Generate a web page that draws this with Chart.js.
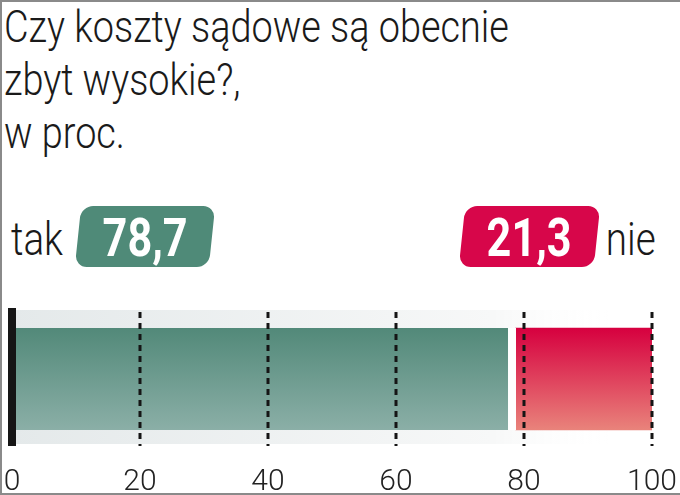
<!DOCTYPE html>
<html>
<head>
<meta charset="utf-8">
<script src="https://cdn.jsdelivr.net/npm/chart.js@4.4.1/dist/chart.umd.min.js"></script>
<style>
  html, body { margin: 0; padding: 0; background: #fff; }
  #wrap {
    position: relative; width: 680px; height: 495px; overflow: hidden;
    font-family: Roboto, sans-serif; color: #1a1a1a;
  }
  #frame {
    position: absolute; left: 0; top: 0; width: 700px; height: 495px; box-sizing: border-box;
    border: 2px solid #8a8a8a; pointer-events: none;
  }
  #title {
    position: absolute; left: 4px; top: 1px; margin: 0;
    font-weight: 300; font-size: 44px; line-height: 53px;
    transform: scaleX(0.86); transform-origin: 0 0; white-space: nowrap;
  }
  .ans { position: absolute; top: 206px; height: 61px; display: flex; align-items: center; }
  .word { font-weight: 300; font-size: 46px; display: inline-block; transform: scaleX(0.84); padding-top: 4px; }
  .pill {
    position: relative; height: 61px;
    display: flex; align-items: center; justify-content: center;
    color: #fff; font-weight: 700; font-size: 54px;
  }
  .pill::before {
    content: ""; position: absolute; inset: 0; border-radius: 12px;
    transform: skewX(-6deg); z-index: 0;
  }
  .pill span { position: relative; z-index: 1; display: inline-block; transform: scaleX(0.8); padding-top: 2px; }
  #yes .pill::before { background: #4f8a78; }
  #no .pill::before { background: #d7064a; }
  #chart { position: absolute; left: 0; top: 0; }
</style>
</head>
<body>
<div id="wrap">
  <div id="title"></div>
  <div class="ans" id="yes" style="left: 6px;"><span class="word" id="yesWord"></span><div class="pill" style="width: 134px; margin-left: 10px;"><span id="yesVal"></span></div></div>
  <div class="ans" id="no" style="left: 462px;"><div class="pill" style="width: 135px;"><span id="noVal"></span></div><span class="word" id="noWord" style="margin-left: 4px;"></span></div>
  <canvas id="chart" width="680" height="495"></canvas>
  <div id="frame"></div>
</div>
<script>
const titleLines = ['Czy koszty sądowe są obecnie', 'zbyt wysokie?,', 'w proc.'];
const answers = ['tak', 'nie'];
const shares = [78.7, 21.3];
const tickValues = [0, 20, 40, 60, 80, 100];

const fmt = v => v.toFixed(1).replace('.', ',');
document.getElementById('title').innerHTML = titleLines.join('<br>');
document.getElementById('yesWord').textContent = answers[0];
document.getElementById('noWord').textContent = answers[1];
document.getElementById('yesVal').textContent = fmt(shares[0]);
document.getElementById('noVal').textContent = fmt(shares[1]);

function vGrad(chart, top, bottom) {
    const a = chart.chartArea;
    if (!a) return top;
    const mid = (a.top + a.bottom) / 2;
    const g = chart.ctx.createLinearGradient(0, mid - 51, 0, mid + 51);
    g.addColorStop(0, top);
    g.addColorStop(1, bottom);
    return g;
}

// light band behind the bars, dashed grid and the thick zero line
const decor = {
    id: 'decor',
    beforeDatasetsDraw(chart) {
        const { ctx, chartArea: a } = chart;
        const g = ctx.createLinearGradient(a.left, 0, a.right - 40, 0);
        g.addColorStop(0, '#e4e9ea');
        g.addColorStop(0.8, '#f7f8f8');
        g.addColorStop(1, 'rgba(255,255,255,0)');
        ctx.save();
        ctx.fillStyle = g;
        ctx.fillRect(a.left, a.top - 2, a.right - a.left, a.bottom - a.top);
        ctx.restore();
    },
    afterDatasetsDraw(chart) {
        const { ctx, chartArea: a, scales } = chart;
        ctx.save();
        ctx.strokeStyle = '#151515';
        ctx.lineWidth = 3;
        ctx.setLineDash([6, 5]);
        tickValues.slice(1).forEach(v => {
            const x = Math.round(scales.x.getPixelForValue(v));
            ctx.beginPath();
            ctx.moveTo(x, a.top);
            ctx.lineTo(x, a.bottom);
            ctx.stroke();
        });
        const x0 = scales.x.getPixelForValue(0);
        ctx.fillStyle = '#151515';
        ctx.fillRect(x0 - 4, a.top - 4, 8, a.bottom - a.top + 4);
        ctx.restore();
    }
};

const ctx = document.getElementById('chart').getContext('2d');
new Chart(ctx, {
    type: 'bar',
    data: {
        labels: [''],
        datasets: [{
            label: answers[0],
            data: [shares[0]],
            backgroundColor: c => vGrad(c.chart, '#528979', '#8bafa7'),
            borderColor: '#fff',
            borderWidth: { right: 8, left: 0, top: 0, bottom: 0 },
            borderSkipped: false,
            barThickness: 102
        }, {
            label: answers[1],
            data: [shares[1]],
            backgroundColor: c => vGrad(c.chart, '#d6003f', '#e9837b'),
            borderWidth: 0,
            barThickness: 102
        }]
    },
    options: {
        indexAxis: 'y',
        responsive: false,
        animation: false,
        events: [],
        layout: { padding: { left: 12, right: 28, top: 312, bottom: 0 } },
        plugins: { legend: { display: false }, tooltip: { enabled: false } },
        scales: {
            x: {
                stacked: true,
                min: 0, max: 100,
                afterBuildTicks: s => { s.ticks = tickValues.map(v => ({ value: v })); },
                afterFit: s => { s.height = 49; s.paddingLeft = 0; s.paddingRight = 0; },
                grid: { display: false },
                border: { display: false },
                ticks: {
                    color: '#222',
                    padding: 10,
                    font: { family: 'Roboto', weight: '300', size: 30 }
                }
            },
            y: { stacked: true, display: false }
        }
    },
    plugins: [decor]
});
</script>
</body>
</html>
